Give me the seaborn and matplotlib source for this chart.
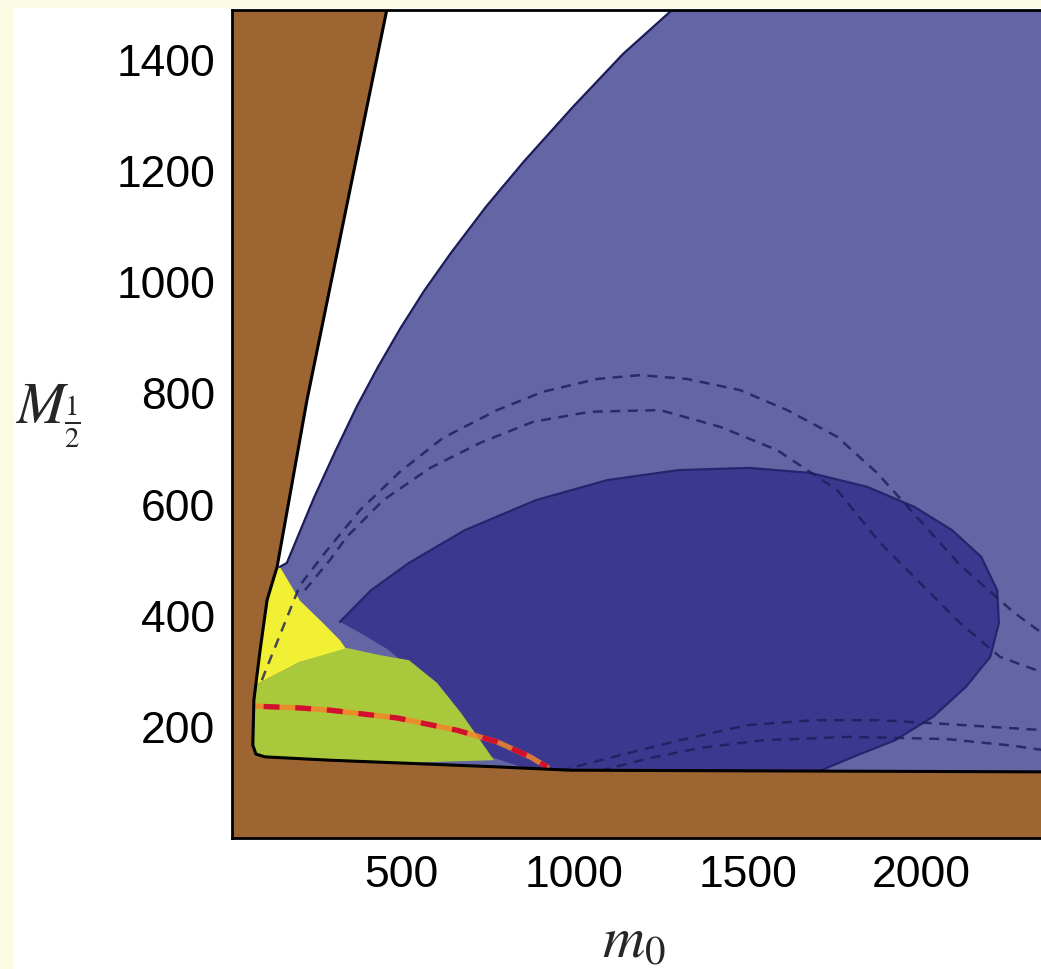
import matplotlib
matplotlib.use("Agg")
import matplotlib.pyplot as plt
from matplotlib.patches import Rectangle
import seaborn as sns

# ─────────────────────────────────────────────
# DATA  (m0, M_1/2)
# ─────────────────────────────────────────────
X_TICKS = [500, 1000, 1500, 2000]
Y_TICKS = [200, 400, 600, 800, 1000, 1200, 1400]
X_RANGE = (13, 2353)
Y_RANGE = (0, 1490)

# edge of the excluded (brown) region
brown_m0 = [459, 229, 143, 114, 94, 76, 73, 82, 108, 295, 497, 777, 987, 2353]
brown_M  = [1490, 788, 488, 428, 338, 248, 167, 151, 146, 140, 135, 128, 122, 119]

# edge of the light blue region
blue_m0 = [151, 171, 203, 249, 310, 373, 434, 497, 566, 644, 745, 855, 996,
           1140, 1281]
blue_M  = [488, 495, 543, 612, 695, 777, 848, 916, 984, 1053, 1136, 1218, 1316,
           1411, 1490]

# dark blue blob (visible arc first, then the part hidden under the green)
dark_m0 = [324, 414, 523, 684, 889, 1094, 1299, 1503, 1679, 1843, 1979, 2088,
           2172, 2218, 2223, 2198, 2128, 2033, 1924, 1803, 1734, 1708,
           880, 740, 650, 560, 460, 380]
dark_M  = [389, 446, 495, 554, 608, 644, 662, 666, 657, 632, 596, 554,
           506, 446, 387, 326, 272, 218, 176, 146, 128, 121,
           121, 150, 220, 290, 340, 370]
N_DARK_ARC = 22

yellow_m0 = [151, 131, 108, 88, 79, 209, 344, 324, 275, 209]
yellow_M  = [488, 473, 392, 320, 275, 317, 338, 356, 387, 427]

green_m0 = [79, 209, 344, 439, 523, 604, 673, 728, 768, 497, 295, 108, 82, 73]
green_M  = [275, 317, 342, 329, 320, 279, 225, 176, 140, 135, 140, 146, 151, 167]

red_m0 = [13, 209, 295, 489, 661, 777, 872, 921]
red_M  = [239, 234, 230, 216, 194, 173, 146, 128]

# dashed contours
outer_m0 = [99, 122, 151, 180, 209, 287, 382, 497, 621, 777, 909, 1065, 1189,
            1324, 1477, 1613, 1757, 1872, 1976, 2111, 2264, 2353]
outer_M  = [284, 320, 365, 410, 455, 518, 590, 659, 720, 770, 803, 826, 833,
            826, 806, 770, 722, 657, 585, 491, 407, 366]
inner_m0 = [223, 295, 344, 449, 584, 728, 881, 1045, 1247, 1419, 1584, 1757,
            1881, 1996, 2111, 2226, 2353]
inner_M  = [446, 500, 542, 608, 666, 711, 749, 767, 770, 740, 698, 626,
            531, 459, 387, 326, 297]
low1_m0 = [958, 1131, 1304, 1497, 1688, 1881, 2074, 2353]
low1_M  = [121, 149, 176, 203, 212, 212, 205, 194]
low2_m0 = [1073, 1218, 1362, 1543, 1794, 2074, 2264, 2353]
low2_M  = [121, 144, 162, 176, 182, 178, 166, 158]

# ─────────────────────────────────────────────
# COLOURS
# ─────────────────────────────────────────────
BROWN  = "#9C6532"
LIGHT  = "#6365A5"
DARK   = "#3D388F"
YELLOW = "#F2F034"
GREEN  = "#AAC83C"
NAVY   = "#1C1C5A"
CREAM  = "#FBFBE4"

sns.set_style("white")
plt.rcParams["font.family"] = ["Liberation Sans", "DejaVu Sans"]
plt.rcParams["mathtext.fontset"] = "stix"

W, H = 1041, 969
fig = plt.figure(figsize=(W / 100, H / 100), dpi=100, facecolor="white")
ax = fig.add_axes([232 / W, (H - 838) / H, 812 / W, 828 / H])
ax.set_facecolor("white")

# cream frame strips (left and top)
fig.patches.append(Rectangle((0, 0), 13 / W, 1, transform=fig.transFigure,
                             color=CREAM, zorder=-1))
fig.patches.append(Rectangle((0, 1 - 7 / H), 1, 7 / H, transform=fig.transFigure,
                             color=CREAM, zorder=-1))

x0, x1 = X_RANGE
y0, y1 = Y_RANGE

# light blue allowed region
cut = brown_M.index(488)
lb_x = blue_m0 + [x1, x1] + brown_m0[::-1][:len(brown_m0) - cut]
lb_y = blue_M + [y1, brown_M[-1]] + brown_M[::-1][:len(brown_M) - cut]
ax.fill(lb_x, lb_y, color=LIGHT, lw=0, zorder=1)

# dark blob
ax.fill(dark_m0, dark_M, color=DARK, lw=0, zorder=2)
sns.lineplot(x=dark_m0[:N_DARK_ARC], y=dark_M[:N_DARK_ARC], sort=False,
             estimator=None, ax=ax, color="#26246E", lw=1.6, zorder=3)

# yellow / green
ax.fill(yellow_m0, yellow_M, color=YELLOW, lw=0, zorder=4)
ax.fill(green_m0, green_M, color=GREEN, lw=0, zorder=4)

# dashed contours
for xs, ys in [(outer_m0, outer_M), (inner_m0, inner_M),
               (low1_m0, low1_M), (low2_m0, low2_M)]:
    sns.lineplot(x=xs, y=ys, sort=False, estimator=None, ax=ax, color=NAVY,
                 lw=1.8, linestyle=(0, (4, 3)), alpha=0.8, zorder=4.5)

# red line
sns.lineplot(x=red_m0, y=red_M, sort=False, estimator=None, ax=ax,
             color="#F5822A", lw=3.8, alpha=0.85, zorder=5)
sns.lineplot(x=red_m0, y=red_M, sort=False, estimator=None, ax=ax,
             color="#D0102E", lw=3.8, linestyle=(0, (3, 3)), zorder=6)

# brown excluded region
ax.fill([x0] + brown_m0 + [x1, x0], [y1] + brown_M + [y0, y0],
        color=BROWN, lw=0, zorder=7)
sns.lineplot(x=brown_m0, y=brown_M, sort=False, estimator=None, ax=ax,
             color="black", lw=2.2, zorder=8)
sns.lineplot(x=blue_m0, y=blue_M, sort=False, estimator=None, ax=ax,
             color=NAVY, lw=1.6, zorder=8)

# ─────────────────────────────────────────────
# AXES
# ─────────────────────────────────────────────
ax.set_xlim(x0, x1)
ax.set_ylim(y0, y1)
ax.set_xticks(X_TICKS)
ax.set_yticks(Y_TICKS)
ax.set_xticklabels([str(t) for t in X_TICKS])
ax.set_yticklabels([str(t) for t in Y_TICKS])
ax.tick_params(direction="in", length=5, width=1, colors="black",
               labelsize=32, pad=12)
ax.set_xlabel("")
ax.set_ylabel("")
for s in ax.spines.values():
    s.set_visible(True)
    s.set_color("black")
    s.set_linewidth(2)
    s.set_zorder(10)

fig.text(15 / W, 1 - 423 / H, r"$M_{\frac{1}{2}}$", fontsize=42,
         ha="left", va="baseline")
fig.text(634 / W, 1 - 958 / H, r"$m_0$", fontsize=42,
         ha="center", va="baseline")

fig.savefig("out.png", dpi=100)
